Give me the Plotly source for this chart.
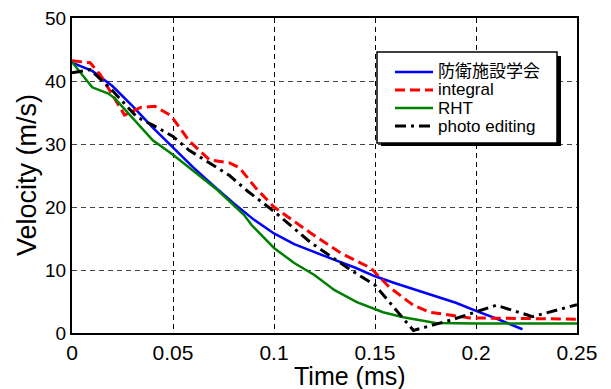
import plotly.graph_objects as go

# Data
blue_x = [0, 0.01, 0.02, 0.03, 0.04, 0.05, 0.06, 0.07, 0.08, 0.09, 0.10, 0.11, 0.12, 0.13,
          0.14, 0.15, 0.16, 0.17, 0.18, 0.19, 0.20, 0.21, 0.223]
blue_y = [42.9, 41.6, 39.2, 36.0, 32.6, 29.4, 26.3, 23.4, 20.6, 18.0, 15.8, 14.1, 12.8, 11.6,
          10.4, 9.0, 7.9, 6.9, 5.8, 4.8, 3.5, 2.3, 0.6]

red_x = [0, 0.009, 0.014, 0.02, 0.026, 0.034, 0.041, 0.049, 0.058, 0.068, 0.078, 0.083,
         0.091, 0.10, 0.118, 0.133, 0.148, 0.157, 0.169, 0.177, 0.197, 0.25]
red_y = [43.2, 42.9, 41.0, 37.8, 34.6, 35.8, 36.0, 34.5, 30.5, 27.5, 27.0, 26.2,
         23.0, 20.0, 15.9, 12.7, 10.3, 7.3, 4.4, 3.3, 2.4, 2.2]

green_x = [0, 0.01, 0.018, 0.021, 0.04, 0.05, 0.072, 0.085, 0.089, 0.10, 0.11, 0.12,
           0.13, 0.141, 0.154, 0.164, 0.18, 0.20, 0.25]
green_y = [43.0, 39.0, 38.0, 37.3, 30.6, 28.3, 22.7, 18.8, 17.1, 13.5, 11.1, 9.2,
           6.8, 4.9, 3.3, 2.5, 1.6, 1.5, 1.5]

black_x = [0, 0.009, 0.02, 0.032, 0.04, 0.05, 0.058, 0.078, 0.087, 0.10, 0.118, 0.138,
           0.15, 0.16, 0.169, 0.188, 0.21, 0.228, 0.25]
black_y = [41.3, 41.8, 38.5, 34.3, 33.0, 31.2, 29.0, 25.0, 22.5, 19.3, 14.4, 10.0,
           7.6, 3.8, 0.4, 2.1, 4.4, 2.6, 4.5]

names = ["防衛施設学会", "integral", "RHT", "photo editing"]
x_ticks = [0, 0.05, 0.1, 0.15, 0.2, 0.25]
x_tick_text = ["0", "0.05", "0.1", "0.15", "0.2", "0.25"]
y_ticks = [0, 10, 20, 30, 40, 50]
x_title = "Time (ms)"
y_title = "Velocity (m/s)"

FONT = "Liberation Sans, Arial, Noto Sans CJK JP, sans-serif"
PAGE_OFFSET = 8  # default body margin of the html page
W, H = 611 - PAGE_OFFSET, 389 - PAGE_OFFSET
SL, ST, SR, SB = 72, 18, 577, 333  # plot area in screen pixels
PW, PH = SR - SL, SB - ST
L, T = SL - PAGE_OFFSET, ST - PAGE_OFFSET
R, B = W - L - PW, H - T - PH


def px_x(px):
    return (px - SL) / PW


def px_y(py):
    return (SB - py) / PH


colors = ["#0000ff", "#ff0000", "#008000", "#000000"]
widths = [2.5, 3, 2.5, 3]
dashes = ["solid", "10px,5px", "solid", "11px,5px,3px,5px"]
xs = [blue_x, red_x, green_x, black_x]
ys = [blue_y, red_y, green_y, black_y]

fig = go.Figure()
for i in range(4):
    fig.add_trace(go.Scatter(x=xs[i], y=ys[i], mode="lines", name=names[i],
                             showlegend=False,
                             line=dict(color=colors[i], width=widths[i], dash=dashes[i])))

# legend box with shadow
fig.add_shape(type="rect", xref="paper", yref="paper",
              x0=px_x(381), x1=px_x(561), y0=px_y(146), y1=px_y(56),
              fillcolor="black", line=dict(width=0), layer="above")
fig.add_shape(type="rect", xref="paper", yref="paper",
              x0=px_x(377), x1=px_x(557), y0=px_y(143), y1=px_y(52),
              fillcolor="white", line=dict(color="black", width=1.5), layer="above")
row_y = [72, 90, 108, 126]
for i in range(4):
    fig.add_shape(type="line", xref="paper", yref="paper",
                  x0=px_x(395), x1=px_x(433), y0=px_y(row_y[i]), y1=px_y(row_y[i]),
                  line=dict(color=colors[i], width=widths[i], dash=dashes[i]),
                  layer="above")
    fig.add_annotation(xref="paper", yref="paper", x=px_x(436), y=px_y(row_y[i]),
                       text=names[i], showarrow=False, xanchor="left", yanchor="middle",
                       font=dict(size=17, family=FONT, color="black"))

# axis titles
fig.add_annotation(xref="paper", yref="paper", x=px_x(350), y=px_y(376),
                   text=x_title, showarrow=False, xanchor="center", yanchor="middle",
                   font=dict(size=25, family=FONT, color="black"))
fig.add_annotation(xref="paper", yref="paper", x=px_x(27), y=px_y(175),
                   text=y_title, showarrow=False, xanchor="center", yanchor="middle",
                   textangle=-90,
                   font=dict(size=27, family=FONT, color="black"))

fig.update_layout(
    width=W, height=H,
    margin=dict(l=L, r=R, t=T, b=B),
    paper_bgcolor="white", plot_bgcolor="white",
    font=dict(family=FONT, color="black"),
    showlegend=False,
)
fig.update_xaxes(range=[0, 0.25], tickvals=x_ticks, ticktext=x_tick_text,
                 showline=True, linecolor="black", linewidth=2, mirror=True,
                 ticks="", automargin=False, ticklabeloverflow="allow",
                 showgrid=True, gridcolor="black", gridwidth=1, griddash="5px,4px",
                 zeroline=False, tickfont=dict(size=21))
fig.update_yaxes(range=[0, 50], tickvals=y_ticks,
                 showline=True, linecolor="black", linewidth=2, mirror=True,
                 ticks="", automargin=False, ticklabeloverflow="allow",
                 showgrid=True, gridcolor="#444", gridwidth=1, griddash="5px,4px",
                 zeroline=False, tickfont=dict(size=19))

fig.write_html("out.html")
